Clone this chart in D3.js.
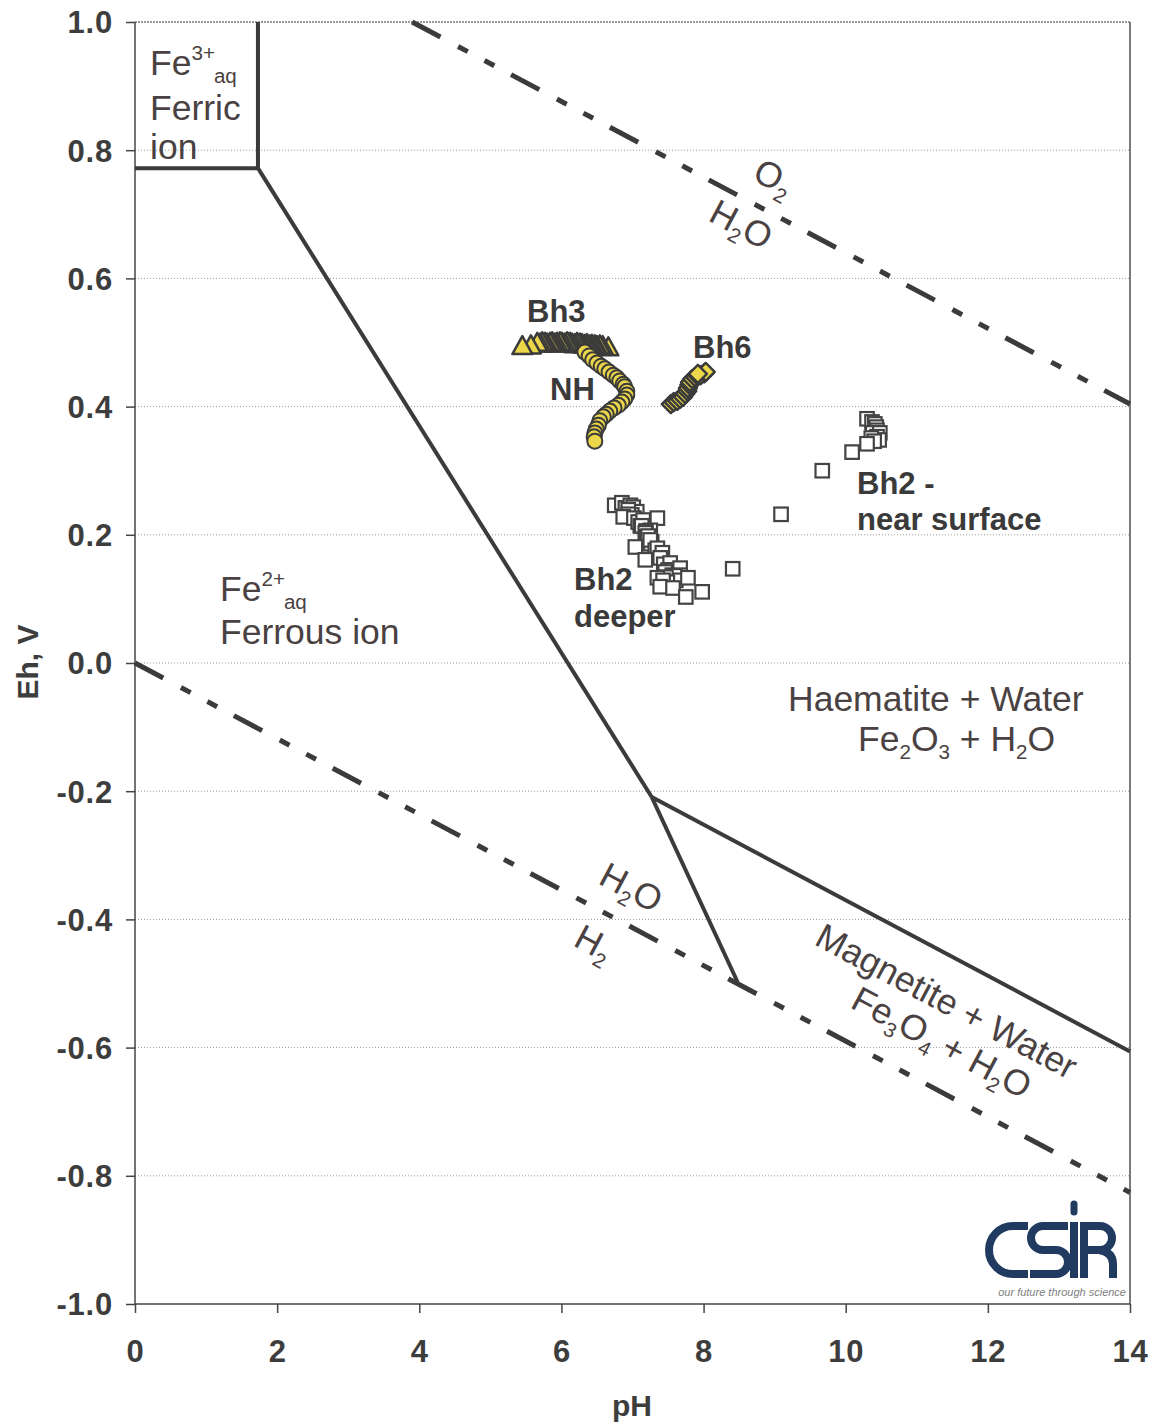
<!DOCTYPE html>
<html><head><meta charset="utf-8">
<script src="https://cdn.jsdelivr.net/npm/d3@7"></script>
<style>
body{margin:0;background:#fff}
svg{display:block}
text{font-family:"Liberation Sans",Arial,Helvetica,sans-serif}
</style>
</head><body>
<svg id="chart" width="1159" height="1426"></svg>
<script>
// ---------- DATA ----------
const xTicks = [0, 2, 4, 6, 8, 10, 12, 14];
const yTicks = [-1.0, -0.8, -0.6, -0.4, -0.2, 0.0, 0.2, 0.4, 0.6, 0.8, 1.0];

// phase boundaries (pH, Eh)
const ferricBox = [[0, 0.772], [1.73, 0.772], [1.73, 1.0]];
const ferrousHaematite = [[1.73, 0.772], [7.27, -0.209]];
const haematiteMagnetite = [[7.27, -0.209], [14, -0.606]];
const ferrousMagnetite = [[7.27, -0.209], [8.48, -0.498]];
const o2Line = [[3.9, 1.0], [14, 0.404]];
const h2Line = [[0, 0], [14, -0.826]];

// Bh3 (triangles)
const bh3Ph = [5.45, 5.57, 5.66, 5.70, 5.73, 5.77, 5.80, 5.84, 5.87, 5.91, 5.94, 5.98, 6.01, 6.05, 6.08, 6.12, 6.15, 6.19, 6.22, 6.26, 6.29, 6.33, 6.36, 6.40, 6.43, 6.47, 6.50, 6.54, 6.58, 6.66];
const bh3Eh = [0.496, 0.497, 0.501, 0.500, 0.502, 0.501, 0.500, 0.501, 0.502, 0.500, 0.501, 0.502, 0.501, 0.500, 0.502, 0.501, 0.500, 0.499, 0.501, 0.500, 0.499, 0.498, 0.499, 0.497, 0.498, 0.497, 0.496, 0.497, 0.496, 0.494];

// NH (circles)
const nhPh = [6.33, 6.39, 6.44, 6.50, 6.56, 6.61, 6.67, 6.73, 6.78, 6.82, 6.87, 6.89, 6.92, 6.92, 6.89, 6.85, 6.80, 6.74, 6.68, 6.63, 6.59, 6.54, 6.52, 6.49, 6.47, 6.46, 6.47];
const nhEh = [0.485, 0.479, 0.473, 0.468, 0.463, 0.459, 0.454, 0.449, 0.445, 0.440, 0.435, 0.431, 0.424, 0.418, 0.412, 0.407, 0.402, 0.398, 0.393, 0.388, 0.384, 0.378, 0.371, 0.365, 0.359, 0.353, 0.346];

// Bh6 (diamonds)
const bh6Ph = [7.54, 7.58, 7.63, 7.67, 7.71, 7.74, 7.77, 7.78, 7.80, 7.81, 7.84, 7.88, 7.92, 7.96, 8.01, 8.03, 7.92];
const bh6Eh = [0.404, 0.407, 0.409, 0.412, 0.415, 0.420, 0.424, 0.429, 0.434, 0.438, 0.443, 0.446, 0.448, 0.449, 0.452, 0.454, 0.451];

// Bh2 deeper (open squares)
const bh2DeepPh = [6.75, 6.85, 6.90, 6.97, 7.01, 7.06, 6.94, 6.99, 6.94, 6.87, 7.02, 7.35, 7.08, 7.15, 7.11, 7.13, 7.25, 7.19, 7.18, 7.20, 7.22, 7.27, 7.26, 7.25, 7.04, 7.32, 7.35, 7.42, 7.39, 7.18, 7.44, 7.53, 7.50, 7.56, 7.46, 7.56, 7.67, 7.67, 7.60, 7.61, 7.47, 7.35, 7.49, 7.43, 7.39, 7.57, 7.78, 7.98, 7.75, 8.41];
const bh2DeepEh = [0.246, 0.250, 0.242, 0.246, 0.243, 0.236, 0.239, 0.231, 0.232, 0.228, 0.226, 0.226, 0.220, 0.223, 0.214, 0.214, 0.207, 0.206, 0.203, 0.197, 0.198, 0.189, 0.186, 0.192, 0.181, 0.176, 0.179, 0.172, 0.164, 0.161, 0.154, 0.156, 0.145, 0.145, 0.142, 0.137, 0.148, 0.137, 0.136, 0.129, 0.134, 0.133, 0.126, 0.129, 0.119, 0.117, 0.133, 0.111, 0.103, 0.147];

// Bh2 near surface (open squares)
const bh2SurfPh = [10.30, 10.37, 10.41, 10.43, 10.44, 10.38, 10.48, 10.44, 10.47, 10.36, 10.40, 10.30, 10.09, 9.67, 9.09];
const bh2SurfEh = [0.381, 0.376, 0.373, 0.368, 0.363, 0.359, 0.359, 0.353, 0.348, 0.351, 0.346, 0.342, 0.329, 0.300, 0.232];

// ---------- SETUP ----------
const svg = d3.select("#chart");
const x = d3.scaleLinear().domain([0, 14]).range([135, 1130]);
const y = d3.scaleLinear().domain([-1, 1]).range([1304, 22]);
const ink = "#3b3b3b";
const labelInk = "#4a4242";
const yellow = "#ecd64a";

// gridlines
svg.append("g").selectAll("line").data(yTicks.filter(d => d > -1)).join("line")
  .attr("x1", x(0)).attr("x2", x(14))
  .attr("y1", d => y(d)).attr("y2", d => y(d))
  .attr("stroke", "#9a9a9a")
  .attr("stroke-width", d => d === 1 ? 2 : 1)
  .attr("stroke-dasharray", d => d === 1 ? "2,1" : "1,2");

// right border
svg.append("line").attr("x1", x(14)).attr("x2", x(14)).attr("y1", y(1)).attr("y2", y(-1))
  .attr("stroke", "#7a7a7a").attr("stroke-width", 2);

// axes
const xAxis = d3.axisBottom(x).tickValues(xTicks).tickSize(9).tickFormat(d3.format("d"));
const yAxis = d3.axisLeft(y).tickValues(yTicks).tickSize(9).tickFormat(d => d.toFixed(1));
const gx = svg.append("g").attr("transform", `translate(0,${y(-1)})`).call(xAxis);
const gy = svg.append("g").attr("transform", `translate(${x(0)},0)`).call(yAxis);
[gx, gy].forEach(g => {
  g.select(".domain").attr("stroke", "#444").attr("stroke-width", 1.5);
  g.selectAll(".tick line").attr("stroke", "#444").attr("stroke-width", 1.5);
  g.selectAll(".tick text").attr("fill", "#3d3d3d").attr("font-size", 31).attr("font-weight", "bold")
    .attr("letter-spacing", 0.8)
    .attr("font-family", '"Liberation Sans",Arial,sans-serif');
});
gx.select(".domain").attr("d", `M${x(0)},0H${x(14)}`);
gy.select(".domain").attr("d", `M0,${y(1)}V${y(-1)}`);
gx.selectAll(".tick text").attr("dy", null).attr("y", 58);
gy.selectAll(".tick text").attr("x", -22).attr("dy", "0.35em");

// axis titles
svg.append("text").attr("x", 632).attr("y", 1416).attr("text-anchor", "middle")
  .attr("font-size", 30).attr("font-weight", "bold").attr("fill", "#3d3d3d").text("pH");
svg.append("text").attr("transform", "translate(38,662) rotate(-90)").attr("text-anchor", "middle")
  .attr("font-size", 30).attr("font-weight", "bold").attr("fill", "#3d3d3d").text("Eh, V");

// boundary lines
const line = d3.line().x(d => x(d[0])).y(d => y(d[1]));
[ferricBox, ferrousHaematite, haematiteMagnetite, ferrousMagnetite].forEach(seg => {
  svg.append("path").attr("d", line(seg)).attr("fill", "none").attr("stroke", ink)
    .attr("stroke-width", 4).attr("stroke-linejoin", "miter");
});
[o2Line, h2Line].forEach(seg => {
  svg.append("path").attr("d", line(seg)).attr("fill", "none").attr("stroke", ink)
    .attr("stroke-width", 5).attr("stroke-dasharray", "32,20,11,19,11,19");
});

// ---------- MARKERS ----------
function pairs(a, b) { return a.map((v, i) => [v, b[i]]); }

// Bh2 squares
const sq = 13.5;
svg.append("g").selectAll("rect").data(pairs(bh2DeepPh, bh2DeepEh).concat(pairs(bh2SurfPh, bh2SurfEh))).join("rect")
  .attr("x", d => x(d[0]) - sq / 2).attr("y", d => y(d[1]) - sq / 2)
  .attr("width", sq).attr("height", sq)
  .attr("fill", "#fff").attr("stroke", "#444").attr("stroke-width", 2.2);

// Bh3 triangles (drawn right to left)
svg.append("g").selectAll("path").data(pairs(bh3Ph, bh3Eh).reverse()).join("path")
  .attr("transform", d => `translate(${x(d[0])},${y(d[1])})`)
  .attr("d", "M0,-9L10,9L-10,9Z")
  .attr("fill", yellow).attr("stroke", ink).attr("stroke-width", 2.5).attr("stroke-linejoin", "round");

// NH circles
svg.append("g").selectAll("circle").data(pairs(nhPh, nhEh)).join("circle")
  .attr("cx", d => x(d[0])).attr("cy", d => y(d[1])).attr("r", 7.5)
  .attr("fill", yellow).attr("stroke", ink).attr("stroke-width", 2);

// Bh6 diamonds
svg.append("g").selectAll("path").data(pairs(bh6Ph, bh6Eh)).join("path")
  .attr("transform", d => `translate(${x(d[0])},${y(d[1])})`)
  .attr("d", "M0,-9L9,0L0,9L-9,0Z")
  .attr("fill", yellow).attr("stroke", ink).attr("stroke-width", 2.5).attr("stroke-linejoin", "round");

// ---------- TEXT ----------
const fsz = 35.5;
function rich(parent, tx, ty, rot, parts, size) {
  const t = parent.append("text")
    .attr("transform", `translate(${tx},${ty}) rotate(${rot})`)
    .attr("font-size", size).attr("fill", labelInk);
  let shift = 0;
  parts.forEach(p => {
    const s = t.append("tspan").text(p.t);
    let target = 0, fs = size;
    if (p.sub) { target = 8; fs = size * 0.58; }
    if (p.sup) { target = -15; fs = size * 0.58; }
    if (p.dx) s.attr("dx", p.dx);
    s.attr("font-size", fs).attr("dy", target - shift);
    shift = target;
  });
  return t;
}
const tg = svg.append("g");
const ang = 28;
// ferric
rich(tg, 150, 75, 0, [{t: "Fe"}, {t: "3+", sup: true}, {t: "aq", sub: true, dx: -1}], fsz);
tg.append("text").attr("x", 150).attr("y", 120).attr("font-size", fsz).attr("fill", labelInk).text("Ferric");
tg.append("text").attr("x", 150).attr("y", 159).attr("font-size", fsz).attr("fill", labelInk).text("ion");
// ferrous
rich(tg, 220, 601, 0, [{t: "Fe"}, {t: "2+", sup: true}, {t: "aq", sub: true, dx: -1}], fsz);
tg.append("text").attr("x", 220).attr("y", 644).attr("font-size", fsz).attr("fill", labelInk).text("Ferrous ion");
// haematite
tg.append("text").attr("x", 788).attr("y", 711).attr("font-size", fsz).attr("fill", labelInk).text("Haematite + Water");
rich(tg, 858, 751, 0, [{t: "Fe"}, {t: "2", sub: true}, {t: "O"}, {t: "3", sub: true}, {t: " + H"}, {t: "2", sub: true}, {t: "O"}], fsz);
// magnetite
rich(tg, 813, 944, ang, [{t: "Magnetite + Water"}], fsz);
rich(tg, 849, 1007, ang, [{t: "Fe"}, {t: "3", sub: true}, {t: "O"}, {t: "4", sub: true}, {t: "  + H"}, {t: "2", sub: true}, {t: "O"}], fsz);
// water lines
rich(tg, 751, 179, ang, [{t: "O"}, {t: "2", sub: true}], fsz);
rich(tg, 707, 220, ang, [{t: "H"}, {t: "2", sub: true}, {t: "O"}], fsz);
rich(tg, 597, 883, ang, [{t: "H"}, {t: "2", sub: true}, {t: "O"}], fsz);
rich(tg, 572, 945, ang, [{t: "H"}, {t: "2", sub: true}], fsz);

// bold series labels
const bl = [["Bh3", 527, 322], ["Bh6", 693, 358], ["NH", 550, 400], ["Bh2 -", 857, 494],
            ["near surface", 857, 530], ["Bh2", 574, 590], ["deeper", 574, 627]];
svg.append("g").selectAll("text").data(bl).join("text")
  .attr("x", d => d[1]).attr("y", d => d[2]).attr("font-size", 31).attr("font-weight", "bold")
  .attr("fill", "#3a3a3a").text(d => d[0]);

// ---------- CSIR LOGO ----------
const logo = svg.append("g").attr("fill", "none").attr("stroke", "#213b60").attr("stroke-width", 8);
logo.append("path").attr("d", "M1028,1226H1013A24,24 0 0 0 1013,1274H1028");
logo.append("path").attr("d", "M1068,1226H1043A12,12 0 0 0 1043,1250H1056A12,12 0 0 1 1056,1274H1030");
logo.append("path").attr("d", "M1074,1204V1212").attr("stroke-linecap", "round").attr("stroke-width", 7);
logo.append("path").attr("d", "M1074,1222V1278");
logo.append("path").attr("d", "M1084,1222V1278M1084,1226H1100A12,12 0 0 1 1100,1250H1084M1099,1250Q1113,1252 1113,1264V1278");
svg.append("text").attr("x", 1126).attr("y", 1296).attr("text-anchor", "end")
  .attr("font-size", 11).attr("font-style", "italic").attr("fill", "#808080")
  .text("our future through science");
</script>
</body></html>
